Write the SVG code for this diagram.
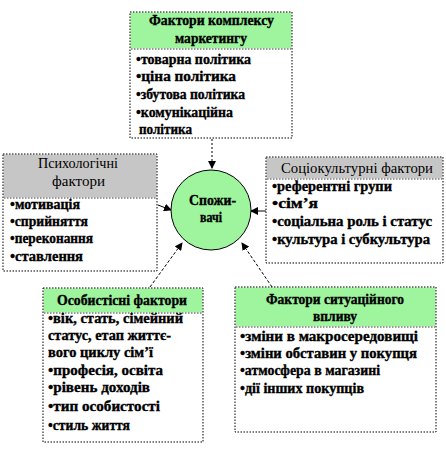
<svg xmlns="http://www.w3.org/2000/svg" width="446" height="468" viewBox="0 0 446 468">
<defs>
<marker id="ah" markerWidth="8" markerHeight="8" refX="7" refY="4" orient="auto" markerUnits="userSpaceOnUse">
<path d="M0,0 L8,4 L0,8 z" fill="#000"/>
</marker>
<style>
.box{fill:#fff;stroke:none}
.bd{fill:none;stroke:#000;stroke-width:1;stroke-dasharray:1.5,1.5}
.hg{fill:#9ef59e;stroke:none}
.hs{fill:#c6c6c6;stroke:none}
.sep{stroke:#999;stroke-width:2;stroke-dasharray:1.5,1.5}
.t{font-family:"Liberation Serif","Times New Roman",serif;font-size:14px;font-weight:bold;fill:#000;stroke:#000;stroke-width:0.35}
.tn{font-family:"Liberation Serif","Times New Roman",serif;font-size:15px;fill:#000}
.c{text-anchor:middle}
.ln{stroke:#000;stroke-width:1;fill:none}
</style>
</defs>
<g id="connectors">
<line class="ln" x1="212" y1="139" x2="212" y2="168" stroke-width="2" stroke-dasharray="2,2" marker-end="url(#ah)"/>
<line class="ln" x1="158" y1="205" x2="171" y2="210" marker-end="url(#ah)"/>
<line class="ln" x1="266" y1="211" x2="251" y2="211" marker-end="url(#ah)"/>
<line class="ln" x1="150" y1="287" x2="182" y2="243" stroke-dasharray="3,2" marker-end="url(#ah)"/>
<line class="ln" x1="272" y1="287" x2="242" y2="243" stroke-dasharray="3,2" marker-end="url(#ah)"/>
</g>
<g id="consumer">
<circle cx="211" cy="210" r="40" fill="#9ef59e" stroke="#000" stroke-width="1"/>
<text class="t" x="189" y="205" textLength="47" lengthAdjust="spacingAndGlyphs">Спожи-</text>
<text class="t" x="200" y="222" textLength="22" lengthAdjust="spacingAndGlyphs">вачі</text>
</g>
<g id="marketing">
<rect class="box" x="130" y="12" width="162" height="126"/>
<rect class="hg" x="130.5" y="12.5" width="161" height="36"/>
<line class="sep" x1="131" y1="49" x2="291" y2="49"/>
<rect class="bd" x="130" y="12" width="162" height="126"/>
<text class="t" x="149" y="25" textLength="125" lengthAdjust="spacingAndGlyphs">Фактори комплексу</text>
<text class="t" x="175" y="43" textLength="72" lengthAdjust="spacingAndGlyphs">маркетингу</text>
<text class="t" x="136" y="64" textLength="115" lengthAdjust="spacingAndGlyphs">•товарна політика</text>
<text class="t" x="136" y="81" textLength="100" lengthAdjust="spacingAndGlyphs">•ціна  політика</text>
<text class="t" x="136" y="99" textLength="109" lengthAdjust="spacingAndGlyphs">•збутова політика</text>
<text class="t" x="136" y="117" textLength="97" lengthAdjust="spacingAndGlyphs">•комунікаційна</text>
<text class="t" x="139" y="134" textLength="53" lengthAdjust="spacingAndGlyphs">політика</text>
</g>
<g id="psych">
<rect class="box" x="3" y="154" width="154" height="117"/>
<rect class="hs" x="3.5" y="154.5" width="153" height="43"/>
<line class="sep" x1="4" y1="198" x2="156" y2="198"/>
<rect class="bd" x="3" y="154" width="154" height="117"/>
<text class="tn" x="38" y="168" textLength="80" lengthAdjust="spacingAndGlyphs">Психологічні</text>
<text class="tn" x="52" y="186" textLength="53" lengthAdjust="spacingAndGlyphs">фактори</text>
<text class="t" x="10" y="209" textLength="70" lengthAdjust="spacingAndGlyphs">•мотивація</text>
<text class="t" x="10" y="226" textLength="78" lengthAdjust="spacingAndGlyphs">•сприйняття</text>
<text class="t" x="10" y="243" textLength="83" lengthAdjust="spacingAndGlyphs">•переконання</text>
<text class="t" x="10" y="261" textLength="73" lengthAdjust="spacingAndGlyphs">•ставлення</text>
</g>
<g id="sociocultural">
<rect class="box" x="266" y="157" width="177" height="106"/>
<rect class="hs" x="266.5" y="157.5" width="176" height="21"/>
<line class="sep" x1="267" y1="179" x2="442" y2="179"/>
<rect class="bd" x="266" y="157" width="177" height="106"/>
<text class="tn" x="281" y="173" textLength="152" lengthAdjust="spacingAndGlyphs">Соціокультурні  фактори</text>
<text class="t" x="272" y="191" textLength="120" lengthAdjust="spacingAndGlyphs">•референтні групи</text>
<text class="t" x="272" y="208" textLength="46" lengthAdjust="spacingAndGlyphs">•сім’я</text>
<text class="t" x="272" y="226" textLength="160" lengthAdjust="spacingAndGlyphs">•соціальна роль і статус</text>
<text class="t" x="272" y="244" textLength="158" lengthAdjust="spacingAndGlyphs">•культура і субкультура</text>
</g>
<g id="personal">
<rect class="box" x="43" y="288" width="160" height="154"/>
<rect class="hg" x="43.5" y="288.5" width="159" height="24"/>
<line class="sep" x1="44" y1="313" x2="202" y2="313"/>
<rect class="bd" x="43" y="288" width="160" height="154"/>
<text class="t" x="57" y="305" textLength="130" lengthAdjust="spacingAndGlyphs">Особистісні фактори</text>
<text class="t" x="48" y="323" textLength="135" lengthAdjust="spacingAndGlyphs">•вік,  стать, сімейний</text>
<text class="t" x="48" y="340" textLength="123" lengthAdjust="spacingAndGlyphs">статус, етап життє-</text>
<text class="t" x="48" y="357" textLength="105" lengthAdjust="spacingAndGlyphs">вого циклу  сім’ї</text>
<text class="t" x="48" y="375" textLength="115" lengthAdjust="spacingAndGlyphs">•професія,  освіта</text>
<text class="t" x="48" y="392" textLength="102" lengthAdjust="spacingAndGlyphs">•рівень  доходів</text>
<text class="t" x="48" y="411" textLength="112" lengthAdjust="spacingAndGlyphs">•тип  особистості</text>
<text class="t" x="48" y="430" textLength="82" lengthAdjust="spacingAndGlyphs">•стиль життя</text>
</g>
<g id="situational">
<rect class="box" x="235" y="287" width="201" height="145"/>
<rect class="hg" x="235.5" y="287.5" width="200" height="39"/>
<line class="sep" x1="236" y1="327" x2="435" y2="327"/>
<rect class="bd" x="235" y="287" width="201" height="145"/>
<text class="t" x="266" y="304" textLength="138" lengthAdjust="spacingAndGlyphs">Фактори ситуаційного</text>
<text class="t" x="313" y="321" textLength="44" lengthAdjust="spacingAndGlyphs">впливу</text>
<text class="t" x="240" y="341" textLength="178" lengthAdjust="spacingAndGlyphs">•зміни  в макросередовищі</text>
<text class="t" x="240" y="358" textLength="177" lengthAdjust="spacingAndGlyphs">•зміни  обставин у покупця</text>
<text class="t" x="240" y="375" textLength="140" lengthAdjust="spacingAndGlyphs">•атмосфера в магазині</text>
<text class="t" x="240" y="393" textLength="124" lengthAdjust="spacingAndGlyphs">•дії  інших  покупців</text>
</g>
</svg>
